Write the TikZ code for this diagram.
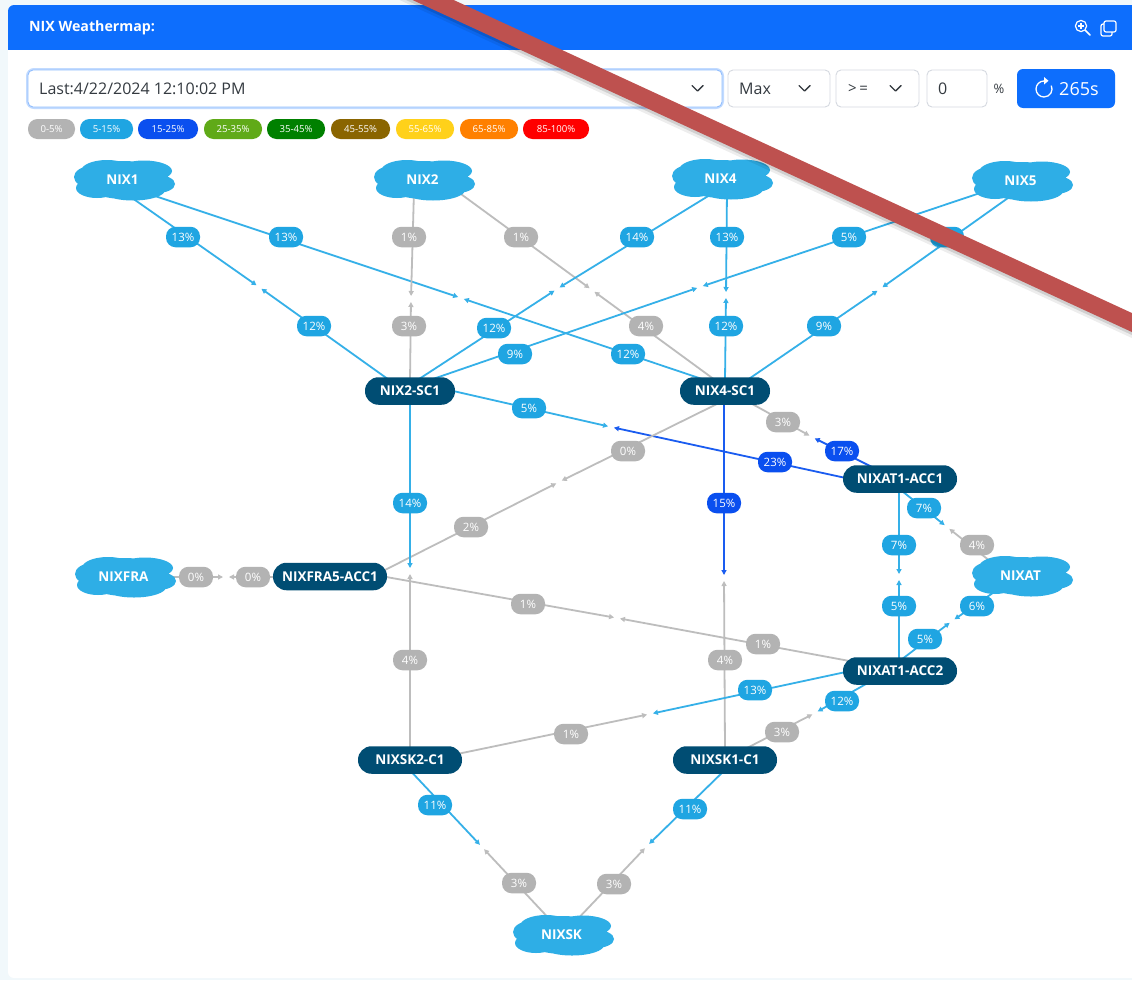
\documentclass[tikz,border=0pt]{standalone}
\usepackage{fontspec}
\setmainfont{Open Sans}
\usetikzlibrary{calc,arrows.meta,shapes.geometric}
\pgfdeclarelayer{panel}\pgfdeclarelayer{links}\pgfdeclarelayer{top}
\pgfsetlayers{panel,links,main,top}
\definecolor{pagebg}{HTML}{F1F8FB}
\definecolor{hdr}{HTML}{0D6EFD}
\definecolor{gry}{HTML}{B3B3B3}
\definecolor{gryl}{HTML}{BDBDBD}
\definecolor{lblu}{HTML}{1FA5E2}
\definecolor{llin}{HTML}{35B0E8}
\definecolor{dblu}{HTML}{0A4FEF}
\definecolor{dlin}{HTML}{1A5CF0}
\definecolor{nodec}{HTML}{004D73}
\definecolor{cloudc}{HTML}{2EAEE6}
\definecolor{barc}{HTML}{BE514F}
\definecolor{ctl}{HTML}{D5D9E0}
\definecolor{txtc}{HTML}{343A40}
\newcounter{lk}
\tikzset{
 router/.style={draw=none,fill=nodec,rounded corners=13.5pt,text=white,font=\fontsize{13.5}{15}\selectfont\bfseries,minimum height=27.5pt,inner sep=0pt},
 cloudlab/.style={text=white,font=\fontsize{13.5}{15}\selectfont\bfseries,inner sep=0pt},
 pill/.style={rounded corners=9.5pt,minimum height=20.5pt,minimum width=34pt,inner sep=0pt,text=white,font=\fontsize{11.5}{13}\selectfont},
 legend/.style={rounded corners=9.5pt,minimum height=20pt,inner sep=0pt,text=white,font=\fontsize{9.6}{11}\selectfont},
 lnk/.style={line width=1.8pt,-{Triangle[length=5pt,width=5pt]},shorten >=3pt},
 ctlbox/.style={draw=ctl,line width=.9pt,fill=white,rounded corners=5pt},
 ctltext/.style={text=txtc,font=\fontsize{16}{18}\selectfont,inner sep=0pt},
 chev/.style={draw=txtc,line width=1.4pt,line cap=round,line join=round},
}
\colorlet{gline}{gryl}\colorlet{gfill}{gry}
\colorlet{bline}{llin}\colorlet{bfill}{lblu}
\colorlet{dline}{dlin}\colorlet{dfill}{dblu}
% half link: node, offset of the line end inside the node, meeting coordinate, kind, label position, label
\newcommand{\hlink}[6]{%
 \stepcounter{lk}%
 \begin{pgfonlayer}{links}\draw[lnk,draw=#4line,#4line] ($(#1.center)+(#2)$) -- (#3);\end{pgfonlayer}%
 \node[pill,fill=#4fill] (lab\thelk) at (#5) {#6};%
}
\newcommand{\cloudnode}[3]{%
 \begin{scope}[shift={(#2)}]
 \fill[cloudc] (0,0) ellipse[x radius=42pt,y radius=19pt]
  (-32,-3) ellipse[x radius=18pt,y radius=11pt]
  (-17,-9) ellipse[x radius=26pt,y radius=11pt]
  (20,-9) ellipse[x radius=28pt,y radius=10.5pt]
  (33,4) ellipse[x radius=18pt,y radius=9pt]
  (-27,8) ellipse[x radius=21pt,y radius=10pt]
  (9,10) ellipse[x radius=32pt,y radius=10.5pt];
 \end{scope}
 \node[cloudlab] (#1) at (#2) {\hspace*{-3pt}#3};%
}
\begin{document}
\begin{tikzpicture}[x=1pt,y=-1pt]
\useasboundingbox (0,0) rectangle (1132,980);
\begin{pgfonlayer}{panel}
\fill[pagebg] (0,0) rectangle (1132,980);
\fill[white,rounded corners=6pt] (8,5) rectangle (1150,978);
\fill[hdr,rounded corners=6pt] (8,5) rectangle (1150,60);
\fill[white] (8,50) rectangle (1150,70);
\end{pgfonlayer}
% header
\node[anchor=west,text=white,inner sep=0pt,font=\fontsize{14.2}{16}\selectfont\bfseries] (title) at (29,28) {NIX Weathermap:};
% icons
\draw[white,line width=1.2pt] (1081,26) circle[radius=5.6pt];
\draw[white,line width=1.2pt] (1078,26) -- (1084,26) (1081,23) -- (1081,29);
\draw[white,line width=1.6pt,line cap=round] (1085.3,30.3) -- (1090,35);
\draw[white,line width=1.2pt,rounded corners=2pt] (1104,21) rectangle (1116,32);
\draw[white,line width=1.2pt,rounded corners=2pt] (1104,24) -- (1101,24) -- (1101,36) -- (1112,36) -- (1112,32);
% controls
\draw[draw=hdr!25,line width=4pt,rounded corners=6pt] (28,70) rectangle (722,107);
\draw[draw=hdr!45,fill=white,line width=.9pt,rounded corners=5pt] (28,70) rectangle (722,107);
\node[ctltext,anchor=west] (sel1) at (39,89) {Last:4/22/2024 12:10:02 PM};
\draw[chev] (692,85.5) -- (697.5,91) -- (703,85.5);
\draw[ctlbox] (728,70) rectangle (830,107);
\node[ctltext,anchor=west] (sel2) at (739,89) {Max};
\draw[chev] (799,85.5) -- (804.5,91) -- (810,85.5);
\draw[ctlbox] (836,70) rectangle (919,107);
\node[ctltext,anchor=west,font=\fontsize{15}{18}\selectfont] (sel3) at (848,89) {>\,=};
\draw[chev] (890,85.5) -- (895.5,91) -- (901,85.5);
\draw[ctlbox] (927,70) rectangle (987,107);
\node[ctltext,anchor=west] (sel4) at (938,89) {0};
\node[text=txtc,inner sep=0pt,font=\fontsize{13}{14}\selectfont] (pct) at (999,89) {\%};
\fill[hdr,rounded corners=6pt] (1017,69) rectangle (1115,108);
\draw[white,line width=1.3pt] (1044,81) arc[start angle=90,end angle=385,radius=8pt];
\fill[white] (1044,77) -- (1048.5,80.8) -- (1044,84.5) -- cycle;
\node[anchor=west,text=white,inner sep=0pt,font=\fontsize{18}{20}\selectfont] (btn) at (1059,89) {265s};
% legend
\node[legend,fill=gry,minimum width=47pt] (lg1) at (51.5,129) {0-5\%};
\node[legend,fill=lblu,minimum width=53pt] (lg2) at (106.5,129) {5-15\%};
\node[legend,fill=dblu,minimum width=60pt] (lg3) at (168,129) {15-25\%};
\node[legend,fill={rgb,255:red,96;green,170;blue,24},minimum width=58pt] (lg4) at (233,129) {25-35\%};
\node[legend,fill={rgb,255:red,0;green,128;blue,0},minimum width=58pt] (lg5) at (296,129) {35-45\%};
\node[legend,fill={rgb,255:red,138;green,101;blue,0},minimum width=59pt] (lg6) at (360.5,129) {45-55\%};
\node[legend,fill={rgb,255:red,255;green,209;blue,26},minimum width=58pt] (lg7) at (425,129) {55-65\%};
\node[legend,fill={rgb,255:red,255;green,128;blue,0},minimum width=58pt] (lg8) at (489,129) {65-85\%};
\node[legend,fill=red,minimum width=66pt] (lg9) at (556,129) {85-100\%};
% nodes
\cloudnode{NIXa}{124,180}{NIX1}
\cloudnode{NIXb}{424,180}{NIX2}
\cloudnode{NIXd}{722,179}{NIX4}
\cloudnode{NIXe}{1022,181}{NIX5}
\cloudnode{NIXFRA}{125,577}{NIXFRA}
\cloudnode{NIXAT}{1022,576}{NIXAT}
\cloudnode{NIXSK}{563,935}{NIXSK}
\node[router,minimum width=90pt] (SCa) at (410,391) {NIX2-SC1};
\node[router,minimum width=90pt] (SCb) at (725,391) {NIX4-SC1};
\node[router,minimum width=114pt] (ACCa) at (900,479) {NIXAT1-ACC1};
\node[router,minimum width=114pt] (ACCb) at (900,671) {NIXAT1-ACC2};
\node[router,minimum width=114pt] (FRA) at (330,576.5) {NIXFRA5-ACC1};
\node[router,minimum width=104pt] (SKb) at (410,760) {NIXSK2-C1};
\node[router,minimum width=104pt] (SKa) at (725,760) {NIXSK1-C1};
% meeting points of the two halves of each link
\coordinate (m1) at (259,287);
\coordinate (m2) at (461,298);
\coordinate (m3) at (411,299);
\coordinate (m4) at (592,290);
\coordinate (m5) at (557,289);
\coordinate (m6) at (726,295);
\coordinate (m7) at (700,287);
\coordinate (m8) at (880,289);
\coordinate (m9) at (611,427);
\coordinate (m10) at (559,482);
\coordinate (m11) at (812,437);
\coordinate (m12) at (410,571);
\coordinate (m13) at (724,578);
\coordinate (m14) at (226,577);
\coordinate (m15) at (617,618);
\coordinate (m16) at (899,577);
\coordinate (m17) at (947,527);
\coordinate (m18) at (952,621);
\coordinate (m19) at (650,714);
\coordinate (m20) at (815,713);
\coordinate (m21) at (482,847);
\coordinate (m22) at (647,846);
% links
\hlink{NIXa}{1,13}{m1}{b}{183,237}{13\%}\hlink{SCa}{-18,-9}{m1}{b}{314,326}{12\%}
\hlink{NIXa}{16,11}{m2}{b}{286,237}{13\%}\hlink{SCb}{-20,-11}{m2}{b}{628,354}{12\%}
\hlink{NIXb}{-10,10}{m3}{g}{409,237}{1\%}\hlink{SCa}{0,-10}{m3}{g}{409,326}{3\%}
\hlink{NIXb}{26,6}{m4}{g}{521,237}{1\%}\hlink{SCb}{-10,-11}{m4}{g}{646,326}{4\%}
\hlink{NIXd}{-4,11}{m5}{b}{637,237}{14\%}\hlink{SCa}{6,-10}{m5}{b}{494,328}{12\%}
\hlink{NIXd}{5,11}{m6}{b}{727,237}{13\%}\hlink{SCb}{0,-11}{m6}{b}{726,326}{12\%}
\hlink{NIXe}{-30,8}{m7}{b}{849,237}{5\%}\hlink{SCa}{20,-11}{m7}{b}{515,354}{9\%}
\hlink{NIXe}{-7,12}{m8}{b}{947,237}{}\hlink{SCb}{15,-6}{m8}{b}{824,326}{9\%}
\hlink{SCa}{30,-3}{m9}{b}{529,408}{5\%}\hlink{ACCa}{-45,1}{m9}{d}{775,462}{23\%}
\hlink{SCb}{0,9}{m10}{g}{628,451}{0\%}\hlink{FRA}{45,-1.5}{m10}{g}{471,527}{2\%}
\hlink{SCb}{20,9}{m11}{g}{783,422}{3\%}\hlink{ACCa}{-20,-8}{m11}{d}{842,451}{17\%}
\hlink{SCa}{0,9}{m12}{b}{410,503}{14\%}\hlink{SKb}{0,-10}{m12}{g}{410,660}{4\%}
\hlink{SCb}{-1,9}{m13}{d}{724,503}{15\%}\hlink{SKa}{0,-10}{m13}{g}{725,660}{4\%}
\hlink{NIXFRA}{45,0}{m14}{g}{196,577}{0\%}\hlink{FRA}{-45,0.5}{m14}{g}{253,577}{0\%}
\hlink{FRA}{45,-1.5}{m15}{g}{528,604}{1\%}\hlink{ACCb}{-45,-9}{m15}{g}{763,644}{1\%}
\hlink{ACCa}{-1,11}{m16}{b}{899,545}{7\%}\hlink{ACCb}{-1,-11}{m16}{b}{899,606}{5\%}
\hlink{ACCa}{-3,8}{m17}{b}{924,508}{7\%}\hlink{NIXAT}{-22,-7}{m17}{g}{977,545}{4\%}
\hlink{ACCb}{-3,-8}{m18}{b}{925,639}{5\%}\hlink{NIXAT}{-19,10}{m18}{b}{977,606}{6\%}
\hlink{ACCb}{-45,-1}{m19}{b}{755,690}{13\%}\hlink{SKb}{40,-4.5}{m19}{g}{571,734}{1\%}
\hlink{ACCb}{-20,5}{m20}{b}{842,701}{12\%}\hlink{SKa}{20,-11}{m20}{g}{782,732}{3\%}
\hlink{SKb}{-5,5}{m21}{b}{435,805}{11\%}\hlink{NIXSK}{-8,-10}{m21}{g}{519,883}{3\%}
\hlink{SKa}{5,5}{m22}{b}{690,809}{11\%}\hlink{NIXSK}{9,-10}{m22}{g}{614,884}{3\%}
% overlay bar
\begin{pgfonlayer}{top}
\clip (0,0) rectangle (1132,980);
\fill[black,opacity=.07] (380,-17) -- (1160,343) -- (1160,351) -- (380,-9) -- cycle;
\fill[black,opacity=.12] (380,-17) -- (1160,343) -- (1160,348) -- (380,-12) -- cycle;
\fill[barc] (380,-34) -- (1160,326) -- (1160,345) -- (380,-15) -- cycle;
\end{pgfonlayer}
\end{tikzpicture}
\end{document}
